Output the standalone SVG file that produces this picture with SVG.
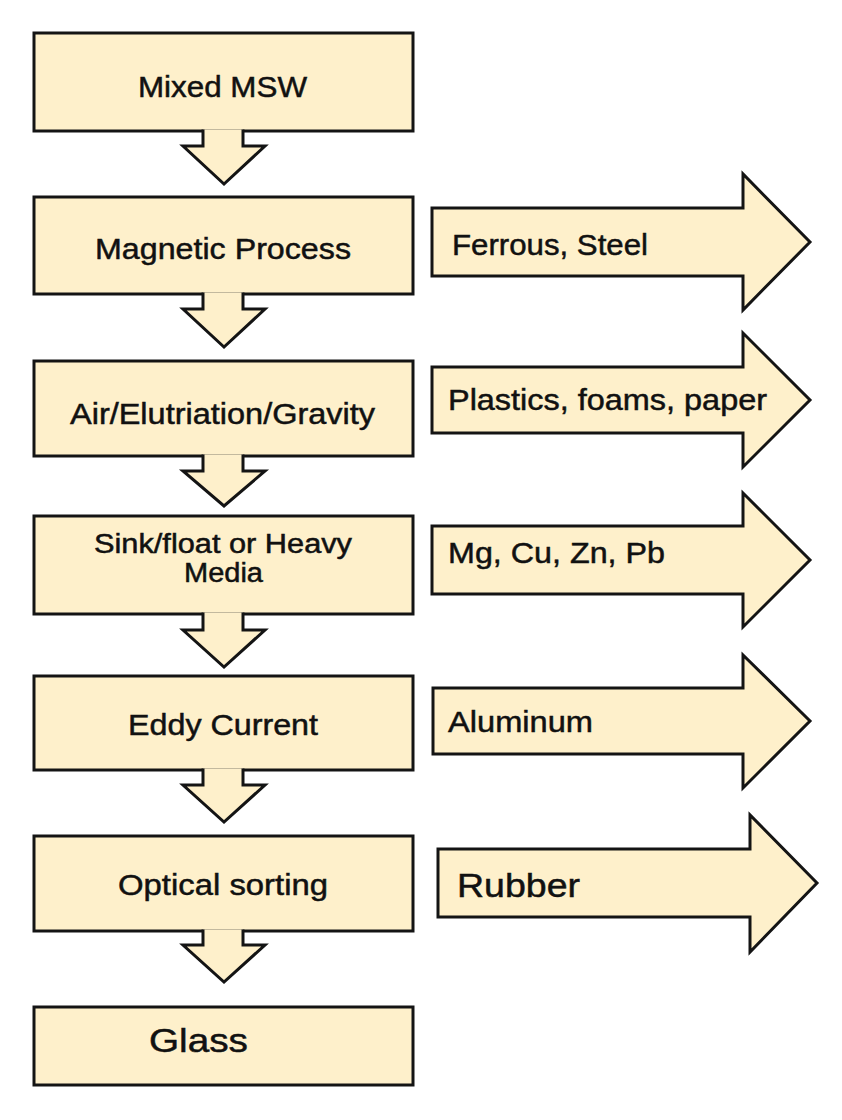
<svg xmlns="http://www.w3.org/2000/svg" width="842" height="1120" viewBox="0 0 842 1120">
<style>
.box{fill:#FEF0CB;stroke:#141414;stroke-width:3;stroke-linejoin:miter}
.arr{fill:#FEF0CB;stroke:#141414;stroke-width:3;stroke-linejoin:miter}
.t{font-family:"Liberation Sans",Arial,sans-serif;font-size:30px;fill:#111;stroke:#111;stroke-width:0.5}
.tb{font-family:"Liberation Sans",Arial,sans-serif;font-size:34px;fill:#111;stroke:#111;stroke-width:0.5}
</style>
<rect width="842" height="1120" fill="#ffffff"/>
<g id="node-mixed-msw"><rect class="box" x="34" y="33" width="379" height="98"/><text class="t" x="138" y="97" textLength="169" lengthAdjust="spacingAndGlyphs">Mixed MSW</text></g>
<g id="node-magnetic"><rect class="box" x="34" y="197" width="379" height="97"/><text class="t" x="95" y="259" textLength="256" lengthAdjust="spacingAndGlyphs">Magnetic Process</text></g>
<g id="node-air"><rect class="box" x="34" y="361" width="379" height="95"/><text class="t" x="70" y="424" textLength="305" lengthAdjust="spacingAndGlyphs">Air/Elutriation/Gravity</text></g>
<g id="node-sink"><rect class="box" x="34" y="516" width="379" height="98"/><text class="t" x="94" y="553" textLength="258" lengthAdjust="spacingAndGlyphs" style="font-size:27px">Sink/float or Heavy</text><text class="t" x="184" y="582" textLength="79" lengthAdjust="spacingAndGlyphs" style="font-size:27px">Media</text></g>
<g id="node-eddy"><rect class="box" x="34" y="676" width="379" height="94"/><text class="t" x="128" y="735" textLength="190" lengthAdjust="spacingAndGlyphs">Eddy Current</text></g>
<g id="node-optical"><rect class="box" x="34" y="836" width="379" height="95"/><text class="t" x="118" y="895" textLength="210" lengthAdjust="spacingAndGlyphs">Optical sorting</text></g>
<g id="node-glass"><rect class="box" x="34" y="1007" width="379" height="78"/><text class="tb" x="149" y="1052" textLength="99" lengthAdjust="spacingAndGlyphs">Glass</text></g>
<g id="out-ferrous"><path class="arr" d="M432,208 L743,208 L743,174 L810,242 L743,310 L743,276 L432,276 Z"/><text class="t" x="452" y="255" textLength="196" lengthAdjust="spacingAndGlyphs">Ferrous, Steel</text></g>
<g id="out-plastics"><path class="arr" d="M432,367 L743,367 L743,333 L810,400 L743,467 L743,433 L432,433 Z"/><text class="t" x="448" y="410" textLength="319" lengthAdjust="spacingAndGlyphs">Plastics, foams, paper</text></g>
<g id="out-metals"><path class="arr" d="M432,526 L743,526 L743,493 L810,560 L743,627 L743,594 L432,594 Z"/><text class="t" x="448" y="563" textLength="217" lengthAdjust="spacingAndGlyphs">Mg, Cu, Zn, Pb</text></g>
<g id="out-aluminum"><path class="arr" d="M433,688 L743,688 L743,655 L810,721 L743,788 L743,754 L433,754 Z"/><text class="t" x="448" y="732" textLength="145" lengthAdjust="spacingAndGlyphs">Aluminum</text></g>
<g id="out-rubber"><path class="arr" d="M438,849 L750,849 L750,815 L817,883 L750,952 L750,917 L438,917 Z"/><text class="tb" x="457" y="897" textLength="123" lengthAdjust="spacingAndGlyphs">Rubber</text></g>
<g id="connectors">
<path class="arr" d="M203,129.5 L203,146 L183,146 L224,184 L265,146 L243,146 L243,129.5"/>
<path class="arr" d="M203,292.5 L203,309 L183,309 L224,347 L265,309 L243,309 L243,292.5"/>
<path class="arr" d="M203,454.5 L203,471 L183,471 L224,506 L265,471 L243,471 L243,454.5"/>
<path class="arr" d="M203,612.5 L203,630 L183,630 L224,667 L265,630 L243,630 L243,612.5"/>
<path class="arr" d="M203,768.5 L203,785 L183,785 L224,822 L265,785 L243,785 L243,768.5"/>
<path class="arr" d="M203,929.5 L203,945 L183,945 L224,982 L265,945 L243,945 L243,929.5"/>
</g>
</svg>
